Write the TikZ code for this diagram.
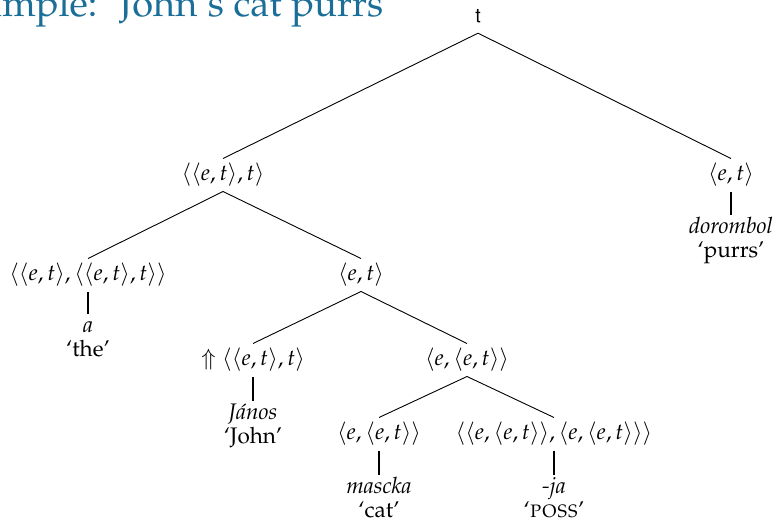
\documentclass[tikz,border=0pt]{standalone}
\usepackage[T1]{fontenc}
\usepackage{mathpazo}
\usepackage{helvet}
\usetikzlibrary{positioning}
\definecolor{titleblue}{RGB}{26,110,152}
\newcommand{\treefont}{\fontsize{22.5}{24}\selectfont}
\newcommand{\firstln}{\rule{0pt}{19pt}}
\tikzset{
  typ/.style={inner xsep=1pt, inner ysep=5pt, text height=17pt, text depth=5.6pt, font=\treefont},
  lex/.style={anchor=north, align=center, inner sep=0pt, font=\treefont},
  branch/.style={line width=0.9pt},
  stem/.style={line width=1.8pt},
}
\begin{document}
\begin{tikzpicture}[x=1pt,y=-1pt]
\path[use as bounding box] (0,0) rectangle (779,527);
\clip (0,0) rectangle (779,527);
% title
\node[anchor=base east, inner sep=0pt, text=titleblue, font=\fontsize{38}{44}\selectfont] (title) at (394,17) {Example: `John's cat purrs'};
% root
\node[anchor=base, font=\sffamily\fontsize{19.5}{22}\selectfont, inner xsep=0pt, inner ysep=10.5pt, text depth=0pt] (root) at (478,22.5) {t};
% types
\node[typ] (A) at (223,175) {$\langle\langle e,t\rangle,t\rangle$};
\node[typ] (B) at (731,175) {$\langle e,t\rangle$};
\node[typ] (C) at (88,275) {$\langle\langle e,t\rangle,\langle\langle e,t\rangle,t\rangle\rangle$};
\node[typ] (D) at (361,275) {$\langle e,t\rangle$};
\node[typ] (E) at (253,360) {$\Uparrow\langle\langle e,t\rangle,t\rangle$};
\node[typ] (F) at (467,360) {$\langle e,\langle e,t\rangle\rangle$};
\node[typ] (G) at (379,434) {$\langle e,\langle e,t\rangle\rangle$};
\node[typ] (H) at (554,434) {$\langle\langle e,\langle e,t\rangle\rangle,\langle e,\langle e,t\rangle\rangle\rangle$};
% lexical items
\node[lex, below=23pt of B] (wB) {\firstln\textit{dorombol}\\`purrs'};
\node[lex, below=22pt of C] (wC) {\firstln\textit{a}\\`the'};
\node[lex, below=24pt of E] (wE) {\firstln\textit{J\'anos}\\`John'};
\node[lex, below=24pt of G] (wG) {\firstln\textit{mascka}\\`cat'};
\node[lex, below=24pt of H] (wH) {\firstln\textit{-ja}\\`\textsc{poss}'};
% branches
\draw[branch] (root.south) -- (A.north);
\draw[branch] (root.south) -- (B.north);
\draw[branch] (A.south) -- (C.north);
\draw[branch] (A.south) -- (D.north);
\draw[branch] (D.south) -- (E.north);
\draw[branch] (D.south) -- (F.north);
\draw[branch] (F.south) -- (G.north);
\draw[branch] (F.south) -- (H.north);
% stems
\draw[stem] (B.south) -- (wB.north);
\draw[stem] (C.south) -- (wC.north);
\draw[stem] (E.south) -- (wE.north);
\draw[stem] (G.south) -- (wG.north);
\draw[stem] (H.south) -- (wH.north);
\end{tikzpicture}
\end{document}
